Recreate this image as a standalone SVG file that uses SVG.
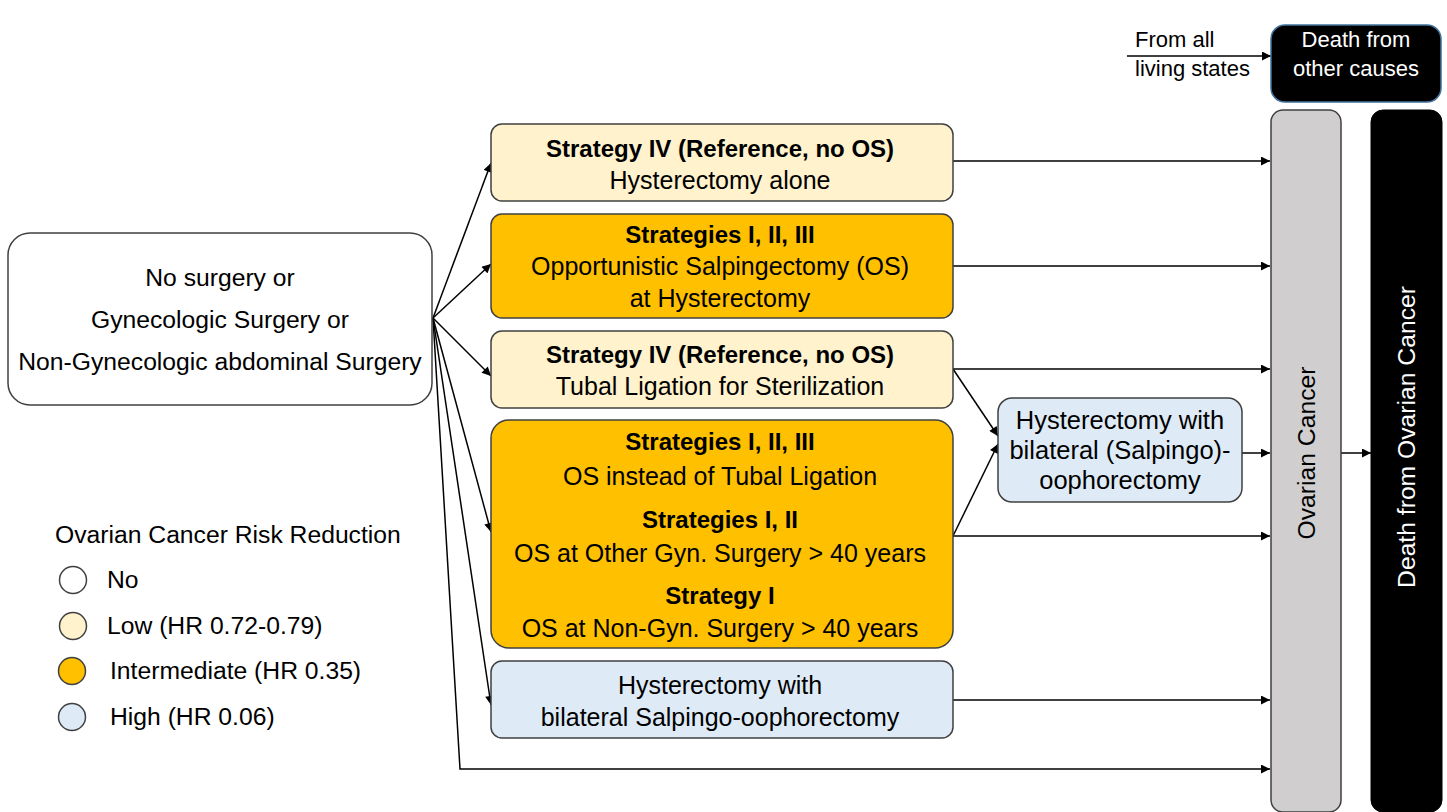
<svg xmlns="http://www.w3.org/2000/svg" width="1447" height="812" viewBox="0 0 1447 812">
<defs>
<marker id="ah" viewBox="0 0 10 10" refX="10" refY="5" markerWidth="10" markerHeight="9" markerUnits="userSpaceOnUse" orient="auto">
<path d="M0,0 L10,5 L0,10 z" fill="#000"/>
</marker>
<style>
text{font-family:"Liberation Sans",Arial,sans-serif;fill:#000}
.t{font-size:25px;text-anchor:middle}
.b{font-size:24px;font-weight:bold;text-anchor:middle}
.l{font-size:24.7px}
.f{font-size:25.5px;text-anchor:middle}
.w{fill:#fff}
.box{stroke:#404040;stroke-width:1.5}
.low{fill:#FFF2CC}
.mid{fill:#FFC000}
.hi{fill:#DEEBF7}
.c{fill:none;stroke:#000;stroke-width:1.5}
.a{marker-end:url(#ah)}
</style>
</defs>

<g id="connectors" class="c">
<line class="a" x1="433" y1="318" x2="491" y2="163"/>
<line class="a" x1="433" y1="318" x2="491" y2="264"/>
<line class="a" x1="433" y1="318" x2="491" y2="376"/>
<line class="a" x1="433" y1="318" x2="491" y2="532"/>
<line class="a" x1="433" y1="318" x2="491" y2="705"/>
<polyline class="a" points="433,318 460,769 1270,769"/>
<line class="a" x1="953" y1="161" x2="1270" y2="161"/>
<line class="a" x1="953" y1="266" x2="1270" y2="266"/>
<line class="a" x1="953" y1="369" x2="1270" y2="369"/>
<line class="a" x1="953" y1="369" x2="998" y2="436"/>
<line class="a" x1="953" y1="536" x2="998" y2="444"/>
<line class="a" x1="953" y1="536" x2="1270" y2="536"/>
<line class="a" x1="1242" y1="453" x2="1270" y2="453"/>
<line class="a" x1="1341" y1="453" x2="1371" y2="453"/>
<line class="a" x1="953" y1="700" x2="1270" y2="700"/>
<line class="a" x1="1127" y1="56" x2="1271" y2="56"/>
</g>

<g id="start">
<rect x="8" y="233" width="424" height="172" rx="22" fill="#fff" class="box"/>
<text class="l" text-anchor="middle" x="220" y="286">No surgery or</text>
<text class="l" text-anchor="middle" x="220" y="328">Gynecologic Surgery or</text>
<text class="l" text-anchor="middle" x="220" y="370">Non-Gynecologic abdominal Surgery</text>
</g>

<g id="hyst-alone">
<rect x="491" y="124" width="462" height="77" rx="11" class="box low"/>
<text class="b" x="720" y="157">Strategy IV (Reference, no OS)</text>
<text class="t" x="720" y="189">Hysterectomy alone</text>
</g>

<g id="os-hyst">
<rect x="491" y="214" width="462" height="104" rx="11" class="box mid"/>
<text class="b" x="720" y="243">Strategies I, II, III</text>
<text class="t" x="720" y="275">Opportunistic Salpingectomy (OS)</text>
<text class="t" x="720" y="307">at Hysterectomy</text>
</g>

<g id="tubal">
<rect x="491" y="331" width="462" height="77" rx="11" class="box low"/>
<text class="b" x="720" y="363">Strategy IV (Reference, no OS)</text>
<text class="t" x="720" y="395">Tubal Ligation for Sterilization</text>
</g>

<g id="os-other">
<rect x="491" y="420" width="462" height="228" rx="18" class="box mid"/>
<text class="b" x="720" y="450">Strategies I, II, III</text>
<text class="t" x="720" y="485">OS instead of Tubal Ligation</text>
<text class="b" x="720" y="528">Strategies I, II</text>
<text class="t" x="720" y="562">OS at Other Gyn. Surgery &gt; 40 years</text>
<text class="b" x="720" y="604">Strategy I</text>
<text class="t" x="720" y="637">OS at Non-Gyn. Surgery &gt; 40 years</text>
</g>

<g id="bso">
<rect x="491" y="661" width="462" height="77" rx="11" class="box hi"/>
<text class="t" x="720" y="694">Hysterectomy with</text>
<text class="t" x="720" y="726">bilateral Salpingo-oophorectomy</text>
</g>

<g id="hyst-bso-later">
<rect x="998" y="398" width="244" height="104" rx="14" class="box hi"/>
<text class="f" x="1120" y="429">Hysterectomy with</text>
<text class="f" x="1120" y="459">bilateral (Salpingo)-</text>
<text class="f" x="1120" y="489">oophorectomy</text>
</g>

<g id="ovarian-cancer">
<rect x="1271" y="110" width="70" height="702" rx="12" fill="#D0CECE" class="box"/>
<text class="l" text-anchor="middle" transform="translate(1315,453) rotate(-90)">Ovarian Cancer</text>
</g>

<g id="death-oc">
<rect x="1371" y="110" width="71" height="702" rx="12" fill="#000" stroke="#000"/>
<text class="l w" text-anchor="middle" transform="translate(1415,437) rotate(-90)">Death from Ovarian Cancer</text>
</g>

<g id="death-other">
<rect x="1271" y="25" width="170" height="77" rx="14" fill="#000" stroke="#41719C" stroke-width="1.5"/>
<text class="w" font-size="22" text-anchor="middle" x="1356" y="47">Death from</text>
<text class="w" font-size="22" text-anchor="middle" x="1356" y="76">other causes</text>
</g>

<g id="from-all">
<text font-size="22" x="1135" y="47">From all</text>
<text font-size="22" x="1135" y="76">living states</text>
</g>

<g id="legend">
<text class="l" x="55" y="543">Ovarian Cancer Risk Reduction</text>
<circle cx="73" cy="580" r="13.5" fill="#fff" class="box"/>
<text class="l" x="107" y="588">No</text>
<circle cx="73" cy="626" r="13.5" class="box low"/>
<text class="l" x="107" y="634">Low (HR 0.72-0.79)</text>
<circle cx="72" cy="671" r="13.5" class="box mid"/>
<text class="l" x="110" y="679">Intermediate (HR 0.35)</text>
<circle cx="72" cy="717" r="13.5" class="box hi"/>
<text class="l" x="110" y="725">High (HR 0.06)</text>
</g>
</svg>
